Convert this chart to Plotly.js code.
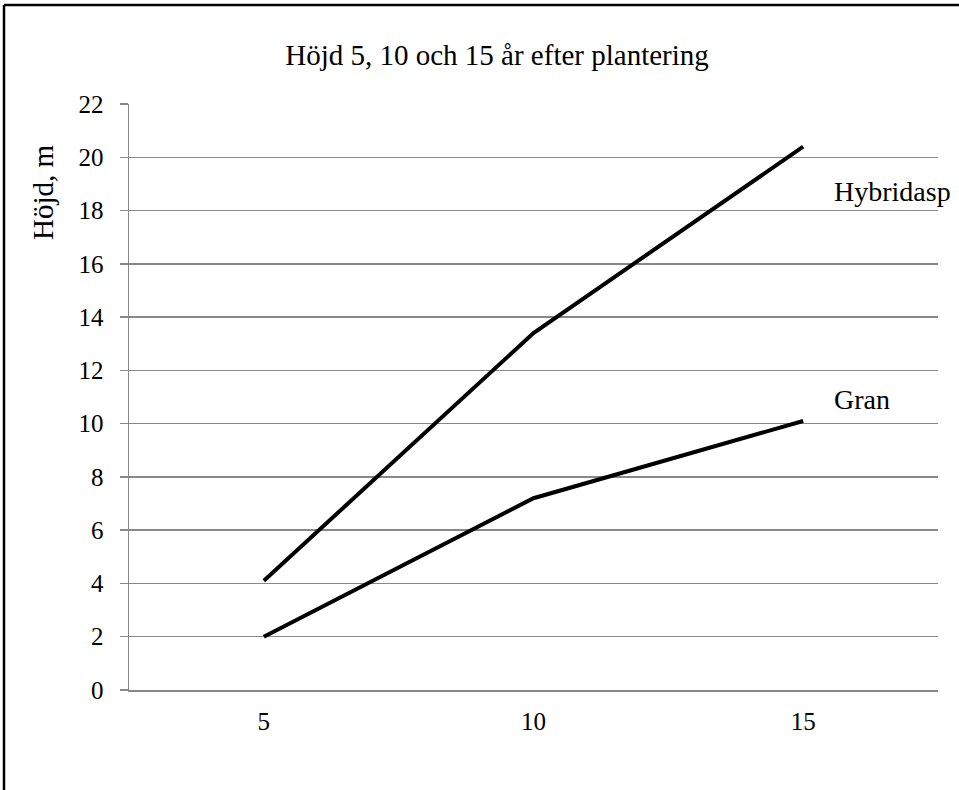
<!DOCTYPE html>
<html>
<head>
<meta charset="utf-8">
<script src="https://cdn.plot.ly/plotly-3.0.1.min.js"></script>
<style>html,body{margin:0;padding:0;background:#fff;}#chart{width:959px;height:790px;}</style>
</head>
<body>
<div id="chart"></div>
<script>
const years = ['5', '10', '15'];
const hybridasp = [4.1, 13.4, 20.4];
const gran = [2.0, 7.2, 10.1];
const seriesNames = ['Hybridasp', 'Gran'];
const yTicks = [0, 2, 4, 6, 8, 10, 12, 14, 16, 18, 20, 22];

const W = 959, H = 790;
const L = 129, R = 21, T = 104, B = 100;
const pw = W - L - R, ph = H - T - B;
const px = v => (v - L) / pw;
const py = v => (H - B - v) / ph;
const FONT = '"Liberation Serif", "Times New Roman", serif';

const lineStyle = {color: '#000', width: 4};
const traces = [
  {x: years, y: hybridasp, type: 'scatter', mode: 'lines', name: seriesNames[0], line: lineStyle, hoverinfo: 'skip'},
  {x: years, y: gran, type: 'scatter', mode: 'lines', name: seriesNames[1], line: lineStyle, hoverinfo: 'skip'}
];

const layout = {
  width: W, height: H,
  margin: {l: L, r: R, t: T, b: B},
  paper_bgcolor: '#fff', plot_bgcolor: '#fff',
  showlegend: false,
  font: {family: FONT, color: '#000', size: 25},
  title: {text: 'Höjd 5, 10 och 15 år efter plantering', font: {family: FONT, size: 29, color: '#000'},
          xref: 'container', x: 497 / W, xanchor: 'center', yref: 'container', y: 1 - 55 / H, yanchor: 'middle'},
  xaxis: {type: 'category', range: [-0.5, 2.5], showgrid: false, zeroline: false,
          showline: true, linecolor: '#888', linewidth: 1.5, ticks: '',
          tickfont: {family: FONT, size: 25, color: '#000'}, ticklabelstandoff: 8, fixedrange: true},
  yaxis: {range: [0, 22], tickvals: yTicks, ticktext: yTicks.map(String), showgrid: true, gridcolor: '#888', gridwidth: 1.5,
          zeroline: false, showline: true, linecolor: '#888', linewidth: 1.5, ticks: 'outside', ticklen: 8,
          tickcolor: '#888', tickwidth: 1.5, tickfont: {family: FONT, size: 25, color: '#000'}, ticklabelstandoff: 11, fixedrange: true},
  annotations: [
    {text: 'Höjd, m', textangle: -90, xref: 'paper', yref: 'paper', x: px(43), y: py(192), xanchor: 'center', yanchor: 'middle',
     showarrow: false, font: {family: FONT, size: 29, color: '#000'}},
    {text: seriesNames[0], xref: 'paper', yref: 'paper', x: px(832), y: py(191), xanchor: 'left', yanchor: 'middle',
     showarrow: false, font: {family: FONT, size: 28, color: '#000'}},
    {text: seriesNames[1], xref: 'paper', yref: 'paper', x: px(832), y: py(399), xanchor: 'left', yanchor: 'middle',
     showarrow: false, font: {family: FONT, size: 28, color: '#000'}}
  ],
  shapes: [
    {type: 'line', xref: 'paper', yref: 'paper', x0: px(4), x1: px(W + 5), y0: py(5), y1: py(5), line: {color: '#000', width: 2.5}},
    {type: 'line', xref: 'paper', yref: 'paper', x0: px(4), x1: px(4), y0: py(5), y1: py(H + 5), line: {color: '#000', width: 2.5}}
  ]
};

Plotly.newPlot('chart', traces, layout, {displayModeBar: false, staticPlot: true});
</script>
</body>
</html>
